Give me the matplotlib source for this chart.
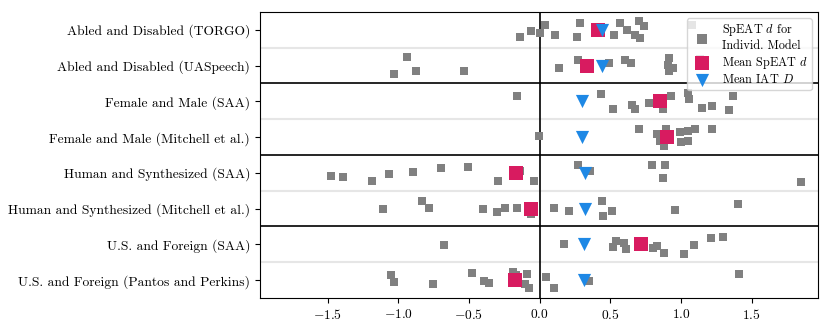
import matplotlib
matplotlib.use("Agg")
import matplotlib.pyplot as plt

plt.rcParams['font.family'] = 'serif'
plt.rcParams['font.serif'] = ['cmr10']
plt.rcParams['mathtext.fontset'] = 'cm'
plt.rcParams['axes.formatter.use_mathtext'] = True
plt.rcParams['axes.unicode_minus'] = True

# Rows, top to bottom
groups = [
    "Abled and Disabled (TORGO)",
    "Abled and Disabled (UASpeech)",
    "Female and Male (SAA)",
    "Female and Male (Mitchell et al.)",
    "Human and Synthesized (SAA)",
    "Human and Synthesized (Mitchell et al.)",
    "U.S. and Foreign (SAA)",
    "U.S. and Foreign (Pantos and Perkins)",
]

# SpEAT d for each individual model, per row
speat_d = [
    [-0.142, -0.064, 0.005, 0.035, 0.106, 0.284, 0.265, 0.525, 0.567, 0.619,
     0.704, 0.738, 0.674, 0.709, 1.076],
    [-1.033, -0.938, -0.872, -0.532, 0.135, 0.272, 0.491, 0.603, 0.650, 0.917,
     0.906, 0.941, 0.917, 1.135],
    [-0.163, 0.438, 0.520, 0.657, 0.674, 0.773, 0.874, 0.927, 1.052, 1.057,
     1.147, 1.218, 1.371, 1.343],
    [-0.004, 0.704, 0.828, 0.894, 0.851, 0.882, 0.993, 1.000, 1.052, 1.099,
     1.052, 1.222],
    [-1.477, -1.390, -1.189, -1.064, -0.899, -0.697, -0.504, -0.291, -0.137,
     -0.040, 0.272, 0.360, 0.792, 0.891, 0.870, 1.851],
    [-1.111, -0.832, -0.780, -0.402, -0.303, -0.248, -0.158, -0.059, 0.099,
     0.206, 0.442, 0.449, 0.509, 0.957, 1.406],
    [-0.674, 0.170, 0.516, 0.544, 0.598, 0.615, 0.733, 0.804, 0.828, 0.879,
     1.021, 1.092, 1.211, 1.296],
    [-1.052, -1.028, -0.757, -0.477, -0.395, -0.355, -0.189, -0.165, -0.087,
     -0.101, -0.076, 0.048, 0.099, 0.348, 1.413],
]

# vertical jitter of the individual points (fraction of a row)
jitter = [
    [0.19, 0.04, 0.10, -0.14, 0.14, -0.18, 0.21, 0.14, -0.18, 0.0,
     -0.26, -0.11, 0.14, 0.23, -0.14],
    [0.23, -0.24, 0.16, 0.15, 0.06, -0.16, -0.06, -0.16, -0.08, -0.20,
     -0.02, 0.08, 0.15, -0.18],
    [-0.16, -0.20, 0.21, 0.10, 0.21, 0.05, 0.21, -0.15, -0.23, -0.06,
     0.18, 0.12, -0.15, 0.24],
    [-0.03, -0.22, -0.09, -0.22, 0.11, 0.25, -0.13, 0.15, -0.18, -0.23,
     0.11, -0.23],
    [0.08, 0.11, 0.23, 0.03, -0.03, -0.13, -0.16, 0.23, -0.06, 0.22,
     -0.22, -0.05, -0.22, -0.22, 0.13, 0.25],
    [0.01, -0.22, -0.03, 0.01, 0.09, -0.01, -0.03, 0.15, -0.03, 0.07,
     -0.22, 0.20, 0.07, 0.04, -0.13],
    [0.02, 0.0, 0.08, -0.10, -0.05, 0.13, -0.05, 0.09, 0.04, 0.25,
     0.27, 0.02, -0.17, -0.22],
    [-0.14, 0.04, 0.12, -0.19, 0.02, 0.07, -0.23, -0.14, -0.17, 0.11,
     0.21, -0.08, 0.23, 0.03, -0.16],
]

mean_speat_d = [0.413, 0.338, 0.851, 0.903, -0.165, -0.059, 0.721, -0.177]
mean_iat_d = [0.442, 0.442, 0.300, 0.300, 0.324, 0.324, 0.312, 0.312]

gray = '#808080'
pink = '#d81b60'
blue = '#1e88e5'

fig = plt.figure(figsize=(8.3, 3.32), dpi=100)
ax = fig.add_axes([0.313, 0.1024, 0.6725, 0.8616])

for i in range(len(groups)):
    ys = [i + j for j in jitter[i]]
    ax.scatter(speat_d[i], ys, marker='s', s=28, color=gray, linewidths=0,
               zorder=3, label="SpEAT $d$ for\nIndivid. Model" if i == 0 else None)
ax.scatter(mean_speat_d, range(len(groups)), marker='s', s=95, color=pink,
           linewidths=0, zorder=4, label="Mean SpEAT $d$")
ax.scatter(mean_iat_d, range(len(groups)), marker='v', s=90, color=blue,
           linewidths=0, zorder=5, label="Mean IAT $D$")

# separators between rows and groups
for k in range(1, len(groups)):
    if k % 2 == 0:
        ax.axhline(k - 0.5, color='black', lw=1.2, zorder=2)
    else:
        ax.axhline(k - 0.5, color='#e6e6e6', lw=1.5, zorder=1)
ax.axvline(0, color='black', lw=1.2, zorder=2)

ax.set_yticks(range(len(groups)))
ax.set_yticklabels(groups, fontsize=9.7)
ax.set_ylim(len(groups) - 0.5, -0.5)
ax.set_xlim(-1.98, 1.97)
ax.set_xticks([-1.5, -1.0, -0.5, 0.0, 0.5, 1.0, 1.5])
ax.tick_params(axis='x', labelsize=9.7)

leg = ax.legend(loc='upper right', fontsize=8.8, handletextpad=0.7,
                borderaxespad=0.5, labelspacing=0.2, borderpad=0.35,
                handlelength=1.8)
leg.legend_handles[0].set_sizes([45])

fig.savefig('out.png', dpi=100)
